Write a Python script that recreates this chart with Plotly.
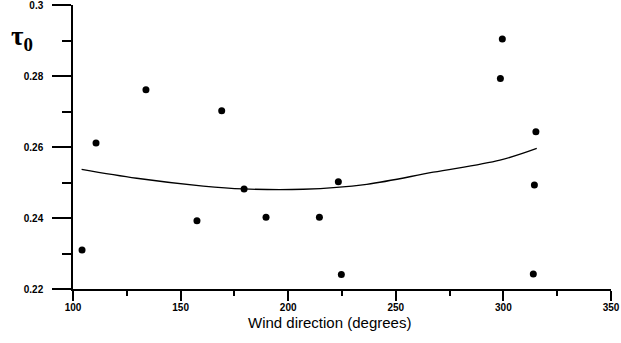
import plotly.graph_objects as go

# Observed points
wind_dir = [104.2, 110.7, 133.9, 157.6, 169.1, 179.5, 189.7, 214.5, 223.3, 224.7,
            299.5, 298.6, 315.1, 314.4, 313.9]
tau0 = [0.2310, 0.2611, 0.2761, 0.2392, 0.2702, 0.2482, 0.2402, 0.2402, 0.2502, 0.2241,
        0.2904, 0.2793, 0.2643, 0.2493, 0.2242]

# Fitted curve
fit_x = [104.0, 129.6, 160.5, 179.1, 207.0, 236.5, 267.4, 298.4, 315.5]
fit_y = [0.2537, 0.2512, 0.2490, 0.2482, 0.2481, 0.2495, 0.2529, 0.2563, 0.2596]

x_ticks = [100, 150, 200, 250, 300, 350]
y_ticks = [0.22, 0.24, 0.26, 0.28, 0.3]

fig = go.Figure()
fig.add_trace(go.Scatter(x=fit_x, y=fit_y, mode="lines",
                         line=dict(color="black", width=1.3, shape="spline"),
                         hoverinfo="skip", showlegend=False))
fig.add_trace(go.Scatter(x=wind_dir, y=tau0, mode="markers",
                         marker=dict(color="black", size=7),
                         showlegend=False))

tickfont = dict(family="Liberation Sans, Arial", size=10, color="black", weight="bold")

fig.update_xaxes(range=[100, 350], tickvals=x_ticks, ticktext=[str(v) for v in x_ticks],
                 ticks="outside", ticklen=10, tickwidth=1.5, tickcolor="black",
                 minor=dict(ticks="outside", ticklen=5, tickwidth=1.5, tickcolor="black", dtick=25, tick0=100),
                 showline=True, linecolor="black", linewidth=1.5, showgrid=False, zeroline=False,
                 tickfont=tickfont, ticklabelstandoff=-2, automargin=False,
                 ticklabeloverflow="allow")
fig.update_yaxes(range=[0.22, 0.3], tickvals=y_ticks, ticktext=["0.22", "0.24", "0.26", "0.28", "0.3"],
                 ticks="outside", ticklen=19, tickwidth=1.5, tickcolor="black",
                 minor=dict(ticks="outside", ticklen=9, tickwidth=1.5, tickcolor="black", dtick=0.01, tick0=0.22),
                 showline=True, linecolor="black", linewidth=1.5, showgrid=False, zeroline=False,
                 tickfont=tickfont, ticklabelstandoff=7, automargin=False,
                 ticklabeloverflow="allow")

fig.add_annotation(text="τ<sub>0</sub>", xref="paper", yref="paper",
                   x=-0.095, y=0.885, xanchor="center", yanchor="middle", showarrow=False,
                   font=dict(family="Liberation Serif, Times New Roman", size=27, color="black", weight="bold"))

fig.add_annotation(text="Wind direction (degrees)", xref="paper", yref="paper",
                   x=0.477, y=-0.118, xanchor="center", yanchor="middle", showarrow=False,
                   font=dict(family="Liberation Sans, Arial", size=15, color="black"))

fig.update_layout(width=621, height=343, margin=dict(l=73, r=10, t=5, b=54, autoexpand=False),
                  plot_bgcolor="white", paper_bgcolor="white")

fig.write_html("out.html", config={"displayModeBar": False},
               post_script="document.body.style.margin='0';document.body.style.overflow='hidden';")
